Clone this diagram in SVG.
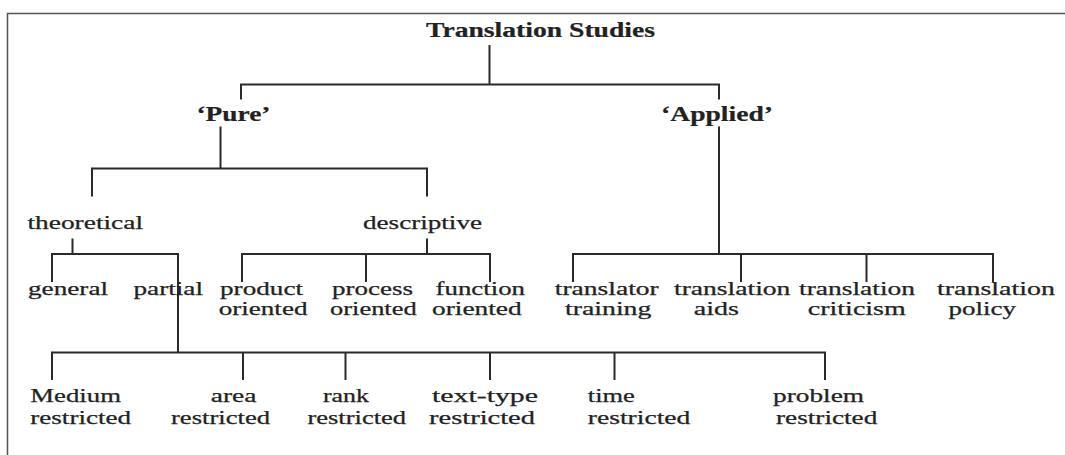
<svg xmlns="http://www.w3.org/2000/svg" width="1065" height="455" viewBox="0 0 1065 455">
<style>
text{font-family:"Liberation Serif","Times New Roman",serif;font-size:19px;fill:#222;stroke:#222;stroke-width:0.25}
.b{font-weight:bold;font-size:20px;stroke-width:0.2}
.c{fill:none;stroke:#2a2a2a;stroke-width:2}
.frame{fill:none;stroke:#555;stroke-width:1.5}
</style>
<rect width="1065" height="455" fill="#fff"/>
<path class="frame" d="M7.5,455 V13.5 H1065"/>
<g id="connectors">
<path class="c" d="M489.5,45 V84.5 M241,99.5 V84.5 H719 V99.5"/>
<path class="c" d="M220.5,126.5 V168.5 M92,196.5 V168.5 H427 V196.5"/>
<path class="c" d="M719,126.5 V254 M573,282 V254 H993 V282 M741,254 V282 M866.5,254 V282"/>
<path class="c" d="M72.5,238.5 V254 M52,282 V254 H178 V352.5"/>
<path class="c" d="M427,238.5 V254 M242,282 V254 H490 V282 M366,254 V282"/>
<path class="c" d="M52,380 V352.5 H825 V380 M243,352.5 V380 M345.5,352.5 V380 M490,352.5 V380 M614.5,352.5 V380"/>
</g>
<g id="n-root"><text class="b" x="426" y="36.5" textLength="229" lengthAdjust="spacingAndGlyphs">Translation Studies</text></g>
<g id="n-pure"><text class="b" x="196.5" y="121" textLength="74" lengthAdjust="spacingAndGlyphs">‘Pure’</text></g>
<g id="n-applied"><text class="b" x="661" y="121" textLength="112" lengthAdjust="spacingAndGlyphs">‘Applied’</text></g>
<g id="n-theoretical"><text x="27.5" y="229" textLength="115.5" lengthAdjust="spacingAndGlyphs">theoretical</text></g>
<g id="n-descriptive"><text x="363" y="229" textLength="119" lengthAdjust="spacingAndGlyphs">descriptive</text></g>
<g id="n-general"><text x="28" y="294.5" textLength="80" lengthAdjust="spacingAndGlyphs">general</text></g>
<g id="n-partial"><text x="133.5" y="294.5" textLength="69.5" lengthAdjust="spacingAndGlyphs">partial</text></g>
<g id="n-product"><text x="220" y="294.5" textLength="83" lengthAdjust="spacingAndGlyphs">product</text><text x="218.7" y="315" textLength="88.8" lengthAdjust="spacingAndGlyphs">oriented</text></g>
<g id="n-process"><text x="332" y="294.5" textLength="81" lengthAdjust="spacingAndGlyphs">process</text><text x="330" y="315" textLength="86.7" lengthAdjust="spacingAndGlyphs">oriented</text></g>
<g id="n-function"><text x="435.6" y="294.5" textLength="89.4" lengthAdjust="spacingAndGlyphs">function</text><text x="432" y="315" textLength="89.7" lengthAdjust="spacingAndGlyphs">oriented</text></g>
<g id="n-training"><text x="554.8" y="294.5" textLength="104" lengthAdjust="spacingAndGlyphs">translator</text><text x="565" y="315" textLength="86.4" lengthAdjust="spacingAndGlyphs">training</text></g>
<g id="n-aids"><text x="674" y="294.5" textLength="116.4" lengthAdjust="spacingAndGlyphs">translation</text><text x="693.8" y="315" textLength="45.2" lengthAdjust="spacingAndGlyphs">aids</text></g>
<g id="n-criticism"><text x="799" y="294.5" textLength="116" lengthAdjust="spacingAndGlyphs">translation</text><text x="807.8" y="315" textLength="98" lengthAdjust="spacingAndGlyphs">criticism</text></g>
<g id="n-policy"><text x="937" y="294.5" textLength="118" lengthAdjust="spacingAndGlyphs">translation</text><text x="948.6" y="315" textLength="67.4" lengthAdjust="spacingAndGlyphs">policy</text></g>
<g id="n-medium"><text x="30.3" y="402" textLength="90.7" lengthAdjust="spacingAndGlyphs">Medium</text><text x="30.3" y="423.5" textLength="100.7" lengthAdjust="spacingAndGlyphs">restricted</text></g>
<g id="n-area"><text x="210.7" y="402" textLength="45.8" lengthAdjust="spacingAndGlyphs">area</text><text x="171" y="423.5" textLength="99" lengthAdjust="spacingAndGlyphs">restricted</text></g>
<g id="n-rank"><text x="323" y="402" textLength="46" lengthAdjust="spacingAndGlyphs">rank</text><text x="307.5" y="423.5" textLength="98.5" lengthAdjust="spacingAndGlyphs">restricted</text></g>
<g id="n-texttype"><text x="432" y="402" textLength="106" lengthAdjust="spacingAndGlyphs">text-type</text><text x="429" y="423.5" textLength="106" lengthAdjust="spacingAndGlyphs">restricted</text></g>
<g id="n-time"><text x="587.8" y="402" textLength="47" lengthAdjust="spacingAndGlyphs">time</text><text x="587.8" y="423.5" textLength="102.5" lengthAdjust="spacingAndGlyphs">restricted</text></g>
<g id="n-problem"><text x="773" y="402" textLength="91" lengthAdjust="spacingAndGlyphs">problem</text><text x="776" y="423.5" textLength="101.3" lengthAdjust="spacingAndGlyphs">restricted</text></g>
</svg>
